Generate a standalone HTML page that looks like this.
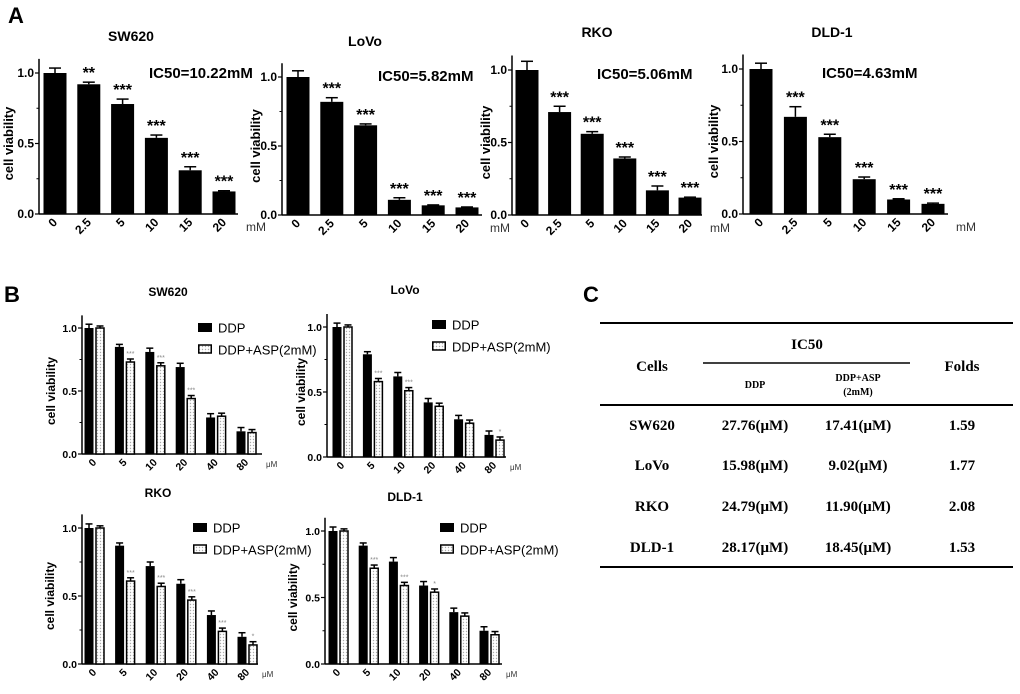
<!DOCTYPE html>
<html><head><meta charset="utf-8"><style>
html,body{margin:0;padding:0;background:#fff;}
svg{display:block;font-family:"Liberation Sans",Arial,sans-serif;}
.ser{font-family:"Liberation Serif","Times New Roman",serif;font-weight:bold;}
</style></head><body>
<svg id="fig" width="1020" height="694" viewBox="0 0 1020 694">
<defs>
<pattern id="dots" width="3" height="3" patternUnits="userSpaceOnUse"><rect width="3" height="3" fill="#fff"/><circle cx="1.5" cy="1.5" r="0.7" fill="#aaa"/></pattern>
</defs>
<text x="8" y="23" font-size="22" font-weight="bold">A</text>
<text x="4" y="302" font-size="22" font-weight="bold">B</text>
<text x="583" y="302" font-size="22" font-weight="bold">C</text>
<g id="tbl" class="ser">
<line x1="600" y1="323" x2="1013" y2="323" stroke="#000" stroke-width="2"/>
<line x1="703" y1="363" x2="910" y2="363" stroke="#000" stroke-width="1.5"/>
<line x1="600" y1="405" x2="1013" y2="405" stroke="#000" stroke-width="2"/>
<line x1="600" y1="567" x2="1013" y2="567" stroke="#000" stroke-width="2"/>
<text x="807" y="349" font-size="15" text-anchor="middle">IC50</text>
<text x="652" y="371" font-size="15" text-anchor="middle">Cells</text>
<text x="962" y="371" font-size="15" text-anchor="middle">Folds</text>
<text x="755" y="388" font-size="10" text-anchor="middle">DDP</text>
<text x="858" y="381" font-size="10" text-anchor="middle">DDP+ASP</text>
<text x="858" y="395" font-size="10" text-anchor="middle">(2mM)</text>
</g>
<g id="charts"></g>
</svg>
<script>
// ---- Panel A data ----
const aDoses = ["0","2.5","5","10","15","20"];
const aSW620 = [1.0,0.92,0.78,0.54,0.31,0.16];
const aSW620Err = [0.035,0.015,0.035,0.02,0.025,0.005];
const aSW620Sig = ["","**","***","***","***","***"];
const aLoVo = [1.0,0.82,0.65,0.11,0.07,0.055];
const aLoVoErr = [0.045,0.03,0.01,0.015,0.003,0.003];
const aLoVoSig = ["","***","***","***","***","***"];
const aRKO = [1.0,0.71,0.56,0.39,0.17,0.12];
const aRKOErr = [0.06,0.04,0.015,0.01,0.03,0.003];
const aRKOSig = ["","***","***","***","***","***"];
const aDLD1 = [1.0,0.67,0.53,0.24,0.10,0.07];
const aDLD1Err = [0.04,0.07,0.02,0.015,0.005,0.005];
const aDLD1Sig = ["","***","***","***","***","***"];
const aIC50 = ["IC50=10.22mM","IC50=5.82mM","IC50=5.06mM","IC50=4.63mM"];
const yTicks = [0,0.5,1.0];
const yTickLabels = ["0.0","0.5","1.0"];
// ---- Panel B data ----
const bDoses = ["0","5","10","20","40","80"];
const bSW620DDP = [1.0,0.85,0.81,0.69,0.29,0.18];
const bSW620ASP = [1.0,0.73,0.70,0.44,0.30,0.17];
const bSW620Sig = ["","***","***","***","",""];
const bLoVoDDP = [1.0,0.79,0.62,0.42,0.29,0.17];
const bLoVoASP = [1.0,0.58,0.51,0.39,0.26,0.13];
const bLoVoSig = ["","***","***","","","*"];
const bRKODDP = [1.0,0.87,0.72,0.59,0.36,0.20];
const bRKOASP = [1.0,0.61,0.57,0.47,0.24,0.14];
const bRKOSig = ["","***","***","***","***","*"];
const bDLD1DDP = [1.0,0.89,0.77,0.59,0.39,0.25];
const bDLD1ASP = [1.0,0.72,0.59,0.54,0.36,0.22];
const bDLD1Sig = ["","***","***","*","",""];
const bErr = [0.03,0.02,0.03,0.03,0.03,0.03];
// ---- Panel C data ----
const cCells = ["SW620","LoVo","RKO","DLD-1"];
const cDDP = ["27.76(μM)","15.98(μM)","24.79(μM)","28.17(μM)"];
const cASP = ["17.41(μM)","9.02(μM)","11.90(μM)","18.45(μM)"];
const cFolds = ["1.59","1.77","2.08","1.53"];

const NS="http://www.w3.org/2000/svg";
const root=document.getElementById('charts');
function mk(tag,attrs,parent,txt){const e=document.createElementNS(NS,tag);for(const k in attrs)e.setAttribute(k,attrs[k]);if(txt!==undefined)e.textContent=txt;(parent||root).appendChild(e);return e;}

function axes(g,c,cats,unit){
  const ys=v=>c.y0+(c.y1-c.y0)*v;
  mk('line',{x1:c.ax,y1:ys(1.1),x2:c.ax,y2:c.y0,stroke:'#000','stroke-width':1.5},g);
  mk('line',{x1:c.ax,y1:c.y0,x2:c.end,y2:c.y0,stroke:'#000','stroke-width':1.5},g);
  yTicks.forEach((t,i)=>{
    mk('line',{x1:c.ax-4,y1:ys(t),x2:c.ax,y2:ys(t),stroke:'#000','stroke-width':1.2},g);
    const tl=mk('text',{x:c.ax-5,y:ys(t)+4,'font-size':c.fs,'font-weight':'bold','text-anchor':'end'},g,yTickLabels[i]);
    
    
  });
  [0.25,0.75].forEach(t=>mk('line',{x1:c.ax-2.5,y1:ys(t),x2:c.ax,y2:ys(t),stroke:'#000','stroke-width':1},g));
  cats.forEach((d,i)=>{
    const cx=c.x0+c.step*i+(c.lblOff||0);
    const tl=mk('text',{x:cx+3,y:c.y0+9,'font-size':c.fs,'font-weight':'bold','text-anchor':'end',transform:`rotate(-45 ${cx+3} ${c.y0+9})`},g,d);
    
    
  });
  const u=mk('text',{x:c.end+c.uOff,y:c.y0+(c.uDy||15),'font-size':c.ufs,fill:'#333'},g,unit);
  
  
  const yl=c.ylx;const ym=(c.y0+ys(1))/2;
  const yt=mk('text',{x:yl,y:ym,'font-size':c.yfs,'font-weight':'bold','text-anchor':'middle',transform:`rotate(-90 ${yl} ${ym})`},g,'cell viability');
  
  
  const tt=mk('text',{x:c.tx,y:c.ty,'font-size':c.tfs,'font-weight':'bold','text-anchor':'middle'},g,c.title);
  
  
  return ys;
}

function errBar(g,cx,top,err,ys,hw){
  const ey=top-(ys(0)-ys(1))*err;
  mk('line',{x1:cx,y1:top,x2:cx,y2:ey,stroke:'#000','stroke-width':1.5},g);
  mk('line',{x1:cx-hw,y1:ey,x2:cx+hw,y2:ey,stroke:'#000','stroke-width':1.5},g);
  return ey;
}

function chartA(c,vals,errs,sig,ic){
  const g=mk('g',{});
  
  
  const ys=axes(g,c,aDoses,'mM');
  vals.forEach((v,i)=>{
    const cx=c.x0+c.step*i;const top=ys(v);
    const ey=errBar(g,cx,top,errs[i],ys,6);
    const r=mk('rect',{x:cx-11.5,y:top,width:23,height:c.y0-top,fill:'#000'},g);
    
    
    if(sig[i]){const s=mk('text',{x:cx,y:ey-4,'font-size':16,'font-weight':'bold','text-anchor':'middle'},g,sig[i]);
      
      }
  });
  const t=mk('text',{x:c.icx,y:c.icy,'font-size':15,'font-weight':'bold'},g,ic);
  
  
}

function chartB(c,ddp,asp,sig){
  const g=mk('g',{});
  
  
  const ys=axes(g,c,bDoses,'μM');
  ddp.forEach((v,i)=>{
    const cx=c.x0+c.step*i;const top=ys(v);
    errBar(g,cx,top,bErr[i],ys,3.5);
    const r=mk('rect',{x:cx-4.5,y:top,width:9,height:c.y0-top,fill:'#000'},g);
    
    
    const cx2=cx+11;const top2=ys(asp[i]);
    const ey=errBar(g,cx2,top2,bErr[(i+1)%6]*0.8,ys,3.5);
    const r2=mk('rect',{x:cx2-4,y:top2,width:8,height:c.y0-top2,fill:'url(#dots)',stroke:'#000','stroke-width':1.5},g);
    
    
    if(sig[i]){const s=mk('text',{x:cx2,y:ey-3,'font-size':7,fill:'#888','text-anchor':'middle'},g,sig[i]);
      
      }
  });
  const lg=mk('g',{},g);
  
  
  mk('rect',{x:c.lx,y:c.ly,width:14,height:9,fill:'#000'},lg);
  const t1=mk('text',{x:c.lx+20,y:c.ly+9.5,'font-size':13},lg,'DDP');
  
  
  mk('rect',{x:c.lx+0.75,y:c.ly+22,width:12.5,height:8,fill:'url(#dots)',stroke:'#000','stroke-width':1.5},lg);
  const t2=mk('text',{x:c.lx+20,y:c.ly+31.5,'font-size':13},lg,'DDP+ASP(2mM)');
  
  
}

const A={fs:12,ufs:12,uOff:8,uDy:17,yfs:13,tfs:14};
chartA(Object.assign({},A,{title:'SW620',ax:39,y0:214,y1:73,x0:55,step:33.8,end:238,ylx:13,tx:131,ty:41,icx:149,icy:78}),aSW620,aSW620Err,aSW620Sig,aIC50[0]);
chartA(Object.assign({},A,{title:'LoVo',ax:282,y0:215,y1:77,x0:298,step:33.8,end:482,ylx:260,tx:365,ty:46,icx:378,icy:81}),aLoVo,aLoVoErr,aLoVoSig,aIC50[1]);
chartA(Object.assign({},A,{title:'RKO',ax:512,y0:215,y1:70,x0:527,step:32.6,end:702,ylx:490,tx:597,ty:37,icx:597,icy:79}),aRKO,aRKOErr,aRKOSig,aIC50[2]);
chartA(Object.assign({},A,{title:'DLD-1',ax:743,y0:214,y1:69,x0:761,step:34.4,end:948,ylx:718,tx:832,ty:37,icx:822,icy:78}),aDLD1,aDLD1Err,aDLD1Sig,aIC50[3]);

const B={fs:10.5,ufs:8,uOff:4,uDy:13,yfs:12,tfs:12,lblOff:5};
chartB(Object.assign({},B,{title:'SW620',ax:82,y0:454,y1:328,x0:89,step:30.4,end:262,ylx:55,tx:168,ty:296,lx:198,ly:323}),bSW620DDP,bSW620ASP,bSW620Sig);
chartB(Object.assign({},B,{title:'LoVo',ax:327,y0:457,y1:327,x0:337,step:30.4,end:506,ylx:305,tx:405,ty:294,lx:432,ly:320}),bLoVoDDP,bLoVoASP,bLoVoSig);
chartB(Object.assign({},B,{title:'RKO',ax:82,y0:664,y1:528,x0:89,step:30.6,end:258,ylx:54,tx:158,ty:497,lx:193,ly:523}),bRKODDP,bRKOASP,bRKOSig);
chartB(Object.assign({},B,{title:'DLD-1',ax:325,y0:664,y1:531,x0:333,step:30.2,end:502,ylx:297,tx:405,ty:501,lx:440,ly:523}),bDLD1DDP,bDLD1ASP,bDLD1Sig);

// Table rows
const tbl=document.getElementById('tbl');
const rowY=[430,470,511,552];
const colX=[652,755,858,962];
cCells.forEach((c,i)=>{
  [c,cDDP[i],cASP[i],cFolds[i]].forEach((t,j)=>{
    const e=mk('text',{x:colX[j],y:rowY[i],'font-size':15,'text-anchor':'middle'},tbl,t);
    
    
  });
});
</script>
</body></html>
